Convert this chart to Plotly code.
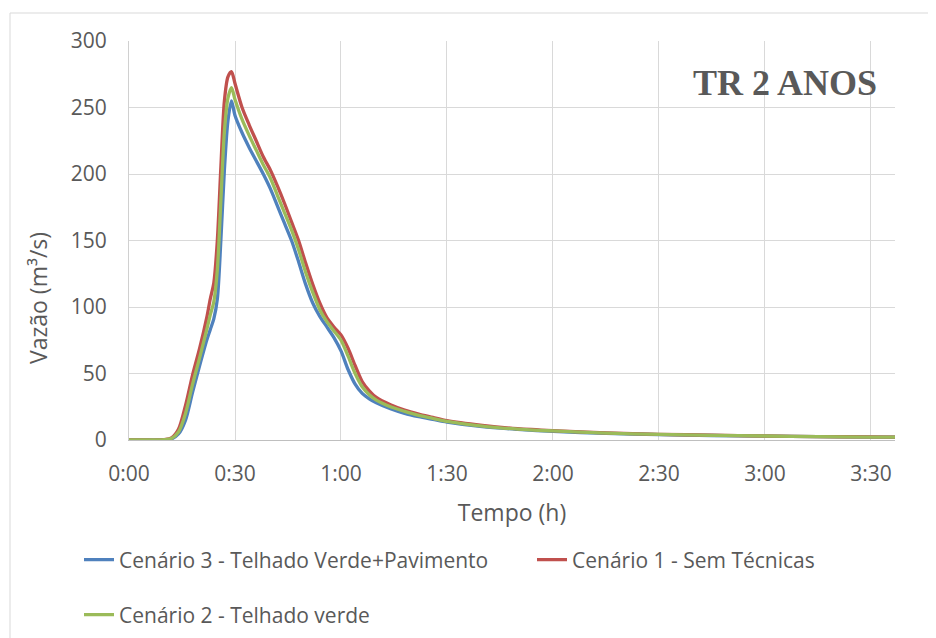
import plotly.graph_objects as go

# time in minutes since start
tempo_min = [0, 4, 8, 10, 12, 14, 16, 18, 20, 22, 23, 24, 25, 26, 27, 28, 29, 30,
             32, 34, 36, 38, 40, 42, 44, 46, 48, 50, 52, 54, 56, 58, 60, 62, 64,
             66, 68, 70, 74, 78, 82, 86, 90, 100, 110, 120, 135, 150, 165, 180,
             195, 210, 217]

cenario3 = [0, 0, 0, 0.1, 0.8, 4.5, 15, 36, 56, 75, 83, 91, 106, 150, 203, 240, 255, 244,
            231, 220, 210, 200, 189, 176, 163, 150, 134, 117, 103, 93, 85, 77, 67, 53, 42,
            35, 31, 28, 23.5, 20, 17.5, 15.5, 13.5, 10, 8, 6.5, 5, 4.1, 3.4, 2.9,
            2.5, 2.2, 2.1]

cenario1 = [0, 0, 0, 0.3, 1.5, 8, 26, 49, 69, 92, 106, 118, 150, 205, 255, 273, 277, 268,
            250, 237, 225, 213, 203, 191, 178, 164, 150, 133, 117, 103, 92, 85, 79, 69, 56,
            44, 37, 32, 26.5, 22.5, 19.5, 17, 14.5, 11, 8.5, 7, 5.3, 4.3, 3.6, 3,
            2.6, 2.3, 2.2]

cenario2 = [0, 0, 0, 0.2, 1.1, 6, 20, 42, 62, 83, 94, 104, 128, 180, 232, 257, 265, 256,
            241, 229, 218, 207, 197, 184, 171, 158, 143, 126, 111, 98, 89, 82, 75, 63, 50,
            40, 34, 30, 25, 21.5, 18.5, 16.3, 14, 10.5, 8.2, 6.8, 5.1, 4.2, 3.5, 3,
            2.5, 2.2, 2.1]

tick_vals = [0, 30, 60, 90, 120, 150, 180, 210]
tick_text = ["0:00", "0:30", "1:00", "1:30", "2:00", "2:30", "3:00", "3:30"]

series_names = ["Cenário 3 - Telhado Verde+Pavimento",
                "Cenário 1 - Sem Técnicas",
                "Cenário 2 - Telhado verde"]
series_colors = ["#4F81BD", "#C0504D", "#9BBB59"]

FONT = "Open Sans"
TXT = "#595959"

# page geometry (browser body margin of 8px is compensated)
OFF = 8
PAGE_W, PAGE_H = 936, 638
W, H = PAGE_W - OFF, PAGE_H - OFF
# plot area in page pixels: x 129..895, y 41..440
PL, PR, PT, PB = 129, 895, 41, 440
L, T = PL - OFF, PT - OFF
R, B = W - (PR - OFF), H - (PB - OFF)
pw, ph = PR - PL, PB - PT

def px_x(x):
    return (x - PL) / pw

def px_y(y):
    return (PB - y) / ph

fig = go.Figure()
legends = ["legend", "legend2", "legend3"]
for name, ys, col, lg in zip(series_names, [cenario3, cenario1, cenario2], series_colors, legends):
    fig.add_trace(go.Scatter(
        x=tempo_min, y=ys, mode="lines", name=name,
        line=dict(color=col, width=3.3, shape="spline", smoothing=0.8),
        legend=lg,
    ))

leg_common = dict(orientation="h", xanchor="left", yanchor="middle",
                  font=dict(family=FONT, size=21, color=TXT),
                  bgcolor="rgba(0,0,0,0)", borderwidth=0)

fig.update_layout(
    width=W, height=H,
    margin=dict(l=L, r=R, t=T, b=B, autoexpand=False),
    paper_bgcolor="white", plot_bgcolor="white",
    showlegend=True,
    legend=dict(x=px_x(79), y=px_y(560), **leg_common),
    legend2=dict(x=px_x(532), y=px_y(560), **leg_common),
    legend3=dict(x=px_x(79), y=px_y(615), **leg_common),
    xaxis=dict(
        range=[0, 216.8], tickvals=tick_vals, ticktext=tick_text,
        showgrid=True, gridcolor="#D9D9D9", gridwidth=1,
        showline=True, linecolor="#BFBFBF", linewidth=1,
        zeroline=False, ticks="", ticklabelstandoff=15,
        tickfont=dict(family=FONT, size=21, color=TXT),
        title=dict(text="Tempo (h)", font=dict(family=FONT, size=23, color=TXT), standoff=18),
    ),
    yaxis=dict(
        range=[0, 300], dtick=50,
        showgrid=True, gridcolor="#D9D9D9", gridwidth=1,
        showline=True, linecolor="#D0D0D0", linewidth=1,
        zeroline=False, ticks="", ticklabelstandoff=17,
        tickfont=dict(family=FONT, size=21, color=TXT),
    ),
    annotations=[
        dict(text="TR 2 ANOS", xref="paper", yref="paper",
             x=px_x(879), y=px_y(83), xanchor="right", yanchor="middle",
             showarrow=False,
             font=dict(family="Liberation Serif", size=36, color=TXT, weight="bold")),
        dict(text="Vazão (m³/s)", xref="paper", yref="paper",
             x=px_x(38), y=px_y(298), xanchor="center", yanchor="middle",
             textangle=-90, showarrow=False,
             font=dict(family=FONT, size=23, color=TXT)),
    ],
    shapes=[
        dict(type="rect", xref="paper", yref="paper",
             x0=px_x(10), x1=px_x(960), y0=px_y(680), y1=px_y(13),
             line=dict(color="#D9D9D9", width=1), fillcolor="rgba(0,0,0,0)",
             layer="below"),
    ],
)

fig.write_html("out.html")
